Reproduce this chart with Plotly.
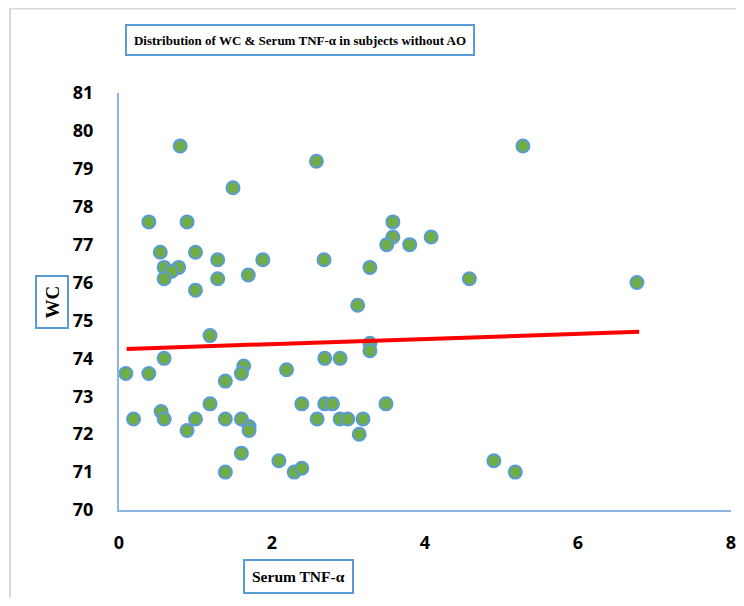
import plotly.graph_objects as go

# Data
tnf = [0.8, 2.58, 5.28, 1.49, 0.39, 0.89, 3.58, 3.58, 3.5, 3.8, 4.08, 0.54, 1.0, 1.29,
       1.88, 2.68, 0.59, 0.78, 0.69, 0.59, 1.29, 1.0, 1.69, 3.28, 4.58, 6.77, 3.12, 1.19,
       3.28, 3.28, 0.59, 2.69, 2.89, 0.09, 0.39, 1.63, 1.6, 2.19, 1.39, 1.19, 2.39, 2.69,
       2.79, 3.49, 0.19, 0.55, 0.59, 1.0, 0.89, 1.39, 1.6, 1.7, 1.7, 2.59, 2.89, 2.99,
       3.19, 3.14, 1.6, 2.09, 1.39, 2.29, 2.39, 4.9, 5.18]
wc = [79.6, 79.2, 79.6, 78.5, 77.6, 77.6, 77.6, 77.2, 77.0, 77.0, 77.2, 76.8, 76.8, 76.6,
      76.6, 76.6, 76.4, 76.4, 76.3, 76.1, 76.1, 75.8, 76.2, 76.4, 76.1, 76.0, 75.4, 74.6,
      74.4, 74.2, 74.0, 74.0, 74.0, 73.6, 73.6, 73.8, 73.6, 73.7, 73.4, 72.8, 72.8, 72.8,
      72.8, 72.8, 72.4, 72.6, 72.4, 72.4, 72.1, 72.4, 72.4, 72.2, 72.1, 72.4, 72.4, 72.4,
      72.4, 72.0, 71.5, 71.3, 71.0, 71.0, 71.1, 71.3, 71.0]
trend_x = [0.1, 6.8]
trend_y = [74.25, 74.7]

x_ticks = [0, 2, 4, 6, 8]
y_ticks = [70, 71, 72, 73, 74, 75, 76, 77, 78, 79, 80, 81]

title_text = "Distribution of WC &amp; Serum TNF-α in subjects without AO"
x_title = "Serum TNF-α"
y_title = "WC"

fig = go.Figure()
fig.add_trace(go.Scatter(
    x=tnf, y=wc, mode="markers",
    marker=dict(size=13, color="#70AD47", line=dict(color="#5B9BD5", width=2)),
    showlegend=False, hoverinfo="x+y"))
fig.add_trace(go.Scatter(
    x=trend_x, y=trend_y, mode="lines",
    line=dict(color="#FF0000", width=4), showlegend=False))

# page has an 8px body margin, so figure coordinates = window coordinates - 8
OFF = 8
W, H = 736, 590
L, R, T, B = 111, 13, 85, 88
pw, ph = W - L - R, H - T - B

def px(xw):
    return (xw - OFF - L) / pw

def py(yw):
    return (H - B - (yw - OFF)) / ph

axis_font = dict(family="Open Sans, Roboto, Arial", size=18, color="#000000")
serif = "Liberation Serif, Times New Roman, serif"

fig.update_layout(
    width=W, height=H,
    margin=dict(l=L, r=R, t=T, b=B, autoexpand=False),
    paper_bgcolor="white", plot_bgcolor="white",
    xaxis=dict(range=[0, 8], tickvals=x_ticks, ticktext=[f"<b>{v}</b>" for v in x_ticks],
               showgrid=False, zeroline=False, showline=True, linecolor="#8DB4E2",
               linewidth=2, ticks="outside", ticklen=15, tickcolor="rgba(0,0,0,0)",
               tickfont=axis_font),
    yaxis=dict(range=[70, 81], tickvals=y_ticks, ticktext=[f"<b>{v}</b>" for v in y_ticks],
               showgrid=False, zeroline=False, showline=True, linecolor="#8DB4E2",
               linewidth=2, ticks="outside", ticklen=20, tickcolor="rgba(0,0,0,0)",
               tickfont=axis_font),
    shapes=[dict(type="rect", xref="paper", yref="paper",
                 x0=px(10), x1=px(760), y0=py(640), y1=py(8.5),
                 line=dict(color="#D9D9D9", width=2), fillcolor="rgba(0,0,0,0)", layer="below")],
    annotations=[
        dict(text=f"<b>{title_text}</b>", xref="paper", yref="paper",
             x=px(300), y=py(40), xanchor="center", yanchor="middle", showarrow=False,
             font=dict(family=serif, size=13, color="black"),
             width=344, height=26,
             bordercolor="#5B9BD5", borderwidth=2, borderpad=1, bgcolor="white"),
        dict(text=f"<b>{y_title}</b>", xref="paper", yref="paper",
             x=px(52), y=py(302), xanchor="center", yanchor="middle", showarrow=False,
             textangle=-90, width=46, height=26,
             font=dict(family=serif, size=19, color="black"),
             bordercolor="#5B9BD5", borderwidth=2, borderpad=2, bgcolor="white"),
        dict(text=f"<b>{x_title}</b>", xref="paper", yref="paper",
             x=px(298), y=py(576), xanchor="center", yanchor="middle", showarrow=False,
             font=dict(family=serif, size=15.5, color="black"),
             bordercolor="#5B9BD5", borderwidth=2, borderpad=7, bgcolor="white"),
    ],
)

fig.write_html("out.html")
